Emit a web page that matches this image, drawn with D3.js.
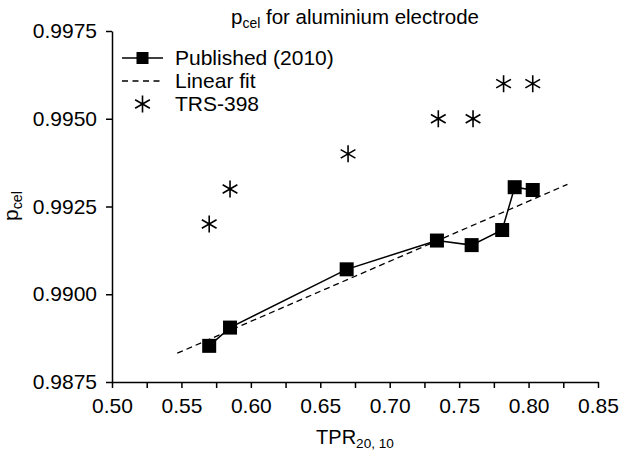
<!DOCTYPE html>
<html>
<head>
  <meta charset="utf-8">
  <title>pcel for aluminium electrode</title>
  <script src="https://d3js.org/d3.v7.min.js"></script>
  <style>
    body { margin: 0; background: #fff; }
    text { font-family: "Liberation Sans", Arial, sans-serif; fill: #000; }
  </style>
</head>
<body>
<div id="vis"></div>
<script>
  // Published (2010)
  var tprPub = [0.570, 0.585, 0.669, 0.734, 0.759, 0.781, 0.790, 0.803];
  var pcelPub = [0.98853, 0.98905, 0.99071, 0.99153, 0.99140, 0.99183, 0.99305, 0.99297];
  // TRS-398
  var tprTrs = [0.570, 0.585, 0.670, 0.735, 0.760, 0.782, 0.803];
  var pcelTrs = [0.9920, 0.9930, 0.9940, 0.9950, 0.9950, 0.9960, 0.9960];
  // linear fit (end points)
  var fitX = [0.547, 0.828];
  var fitY = [0.98832, 0.99313];
  // ticks
  var xTicks = [0.50, 0.525, 0.55, 0.575, 0.60, 0.625, 0.65, 0.675, 0.70, 0.725, 0.75, 0.775, 0.80, 0.825, 0.85];
  var yTicks = [0.9875, 0.9900, 0.9925, 0.9950, 0.9975];
  var legendLabels = ['Published (2010)', 'Linear fit', 'TRS-398'];

  var width = 622, height = 457;
  var margin = { left: 112, right: 24, top: 31, bottom: 75 };

  var svg = d3.select('#vis')
    .append('svg')
    .attr('width', width)
    .attr('height', height);

  var x = d3.scaleLinear().domain([0.5, 0.85]).range([margin.left, width - margin.right]);
  var y = d3.scaleLinear().domain([0.9875, 0.9975]).range([height - margin.bottom, margin.top]);

  // axes
  var xAxis = d3.axisBottom(x)
    .tickValues(xTicks)
    .tickSize(6)
    .tickSizeOuter(0)
    .tickPadding(10)
    .tickFormat(function (d) { return Math.round(d * 1000) % 50 === 0 ? d3.format('.2f')(d) : ''; });

  var yAxis = d3.axisLeft(y)
    .tickValues(yTicks)
    .tickSize(6)
    .tickSizeOuter(0)
    .tickPadding(9)
    .tickFormat(d3.format('.4f'));

  var gx = svg.append('g')
    .attr('transform', 'translate(0,' + (height - margin.bottom) + ')')
    .call(xAxis);
  var gy = svg.append('g')
    .attr('transform', 'translate(' + margin.left + ',0)')
    .call(yAxis);

  [gx, gy].forEach(function (g) {
    g.selectAll('path, line').attr('stroke', '#000').attr('stroke-width', 1.5);
    g.selectAll('text').style('font-size', '21px').attr('fill', '#000');
  });

  // text with subscript helper
  function subText(sel, main, sub, size, rest) {
    sel.style('font-size', size + 'px');
    sel.append('tspan').text(main);
    sel.append('tspan').text(sub)
      .attr('dy', '0.3em')
      .style('font-size', (size * 0.68) + 'px');
    if (rest) {
      sel.append('tspan').text(rest)
        .attr('dy', (-0.3 * size * 0.68) + 'px');
    }
    return sel;
  }

  var cx = (margin.left + width - margin.right) / 2;

  subText(svg.append('text')
    .attr('x', cx)
    .attr('y', 24)
    .attr('text-anchor', 'middle'), 'p', 'cel', 20.5, ' for aluminium electrode');

  subText(svg.append('text')
    .attr('x', cx)
    .attr('y', 444)
    .attr('text-anchor', 'middle'), 'TPR', '20, 10', 20);

  subText(svg.append('text')
    .attr('transform', 'translate(18,206) rotate(-90)')
    .attr('text-anchor', 'middle'), 'p', 'cel', 21);

  // star symbol (asterisk)
  function starPath(r) {
    var a = r * Math.cos(Math.PI / 6), b = r * Math.sin(Math.PI / 6);
    return 'M0,' + (-r) + 'L0,' + r +
      'M' + (-a) + ',' + (-b) + 'L' + a + ',' + b +
      'M' + (-a) + ',' + b + 'L' + a + ',' + (-b);
  }

  // linear fit
  var line = d3.line()
    .x(function (d) { return x(d[0]); })
    .y(function (d) { return y(d[1]); });

  svg.append('path')
    .datum(d3.zip(fitX, fitY))
    .attr('d', line)
    .attr('fill', 'none')
    .attr('stroke', '#000')
    .attr('stroke-width', 1.3)
    .attr('stroke-dasharray', '6,4');

  // published line + squares
  var pub = d3.zip(tprPub, pcelPub);
  svg.append('path')
    .datum(pub)
    .attr('d', line)
    .attr('fill', 'none')
    .attr('stroke', '#000')
    .attr('stroke-width', 1.5);

  var sq = 14;
  svg.selectAll('.sq')
    .data(pub)
    .enter()
    .append('rect')
    .attr('class', 'sq')
    .attr('x', function (d) { return x(d[0]) - sq / 2; })
    .attr('y', function (d) { return y(d[1]) - sq / 2; })
    .attr('width', sq)
    .attr('height', sq)
    .attr('fill', '#000');

  // TRS-398 stars
  svg.selectAll('.star')
    .data(d3.zip(tprTrs, pcelTrs))
    .enter()
    .append('path')
    .attr('class', 'star')
    .attr('transform', function (d) { return 'translate(' + x(d[0]) + ',' + y(d[1]) + ')'; })
    .attr('d', starPath(8.5))
    .attr('fill', 'none')
    .attr('stroke', '#000')
    .attr('stroke-width', 1.6);

  // legend
  var lg = svg.append('g').attr('transform', 'translate(122,58)');
  var rowH = 23;
  lg.append('line').attr('x1', 0).attr('x2', 41).attr('y1', 0).attr('y2', 0)
    .attr('stroke', '#000').attr('stroke-width', 1.5);
  lg.append('rect').attr('x', 20.5 - 6).attr('y', -6).attr('width', 12).attr('height', 12).attr('fill', '#000');
  lg.append('line').attr('x1', 0).attr('x2', 41).attr('y1', rowH).attr('y2', rowH)
    .attr('stroke', '#000').attr('stroke-width', 1.3).attr('stroke-dasharray', '6,4.5');
  lg.append('path').attr('transform', 'translate(20.5,' + (rowH * 2) + ')')
    .attr('d', starPath(8.5)).attr('fill', 'none').attr('stroke', '#000').attr('stroke-width', 1.6);

  lg.selectAll('.lt')
    .data(legendLabels)
    .enter()
    .append('text')
    .attr('class', 'lt')
    .attr('x', 53)
    .attr('y', function (d, i) { return i * rowH; })
    .attr('dy', '0.35em')
    .style('font-size', '21px')
    .text(function (d) { return d; });
</script>
</body>
</html>
